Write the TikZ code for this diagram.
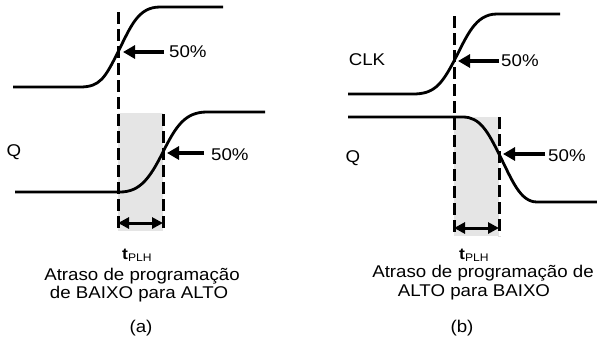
\documentclass[tikz,border=0pt]{standalone}
\usepackage{fontspec}
\setmainfont{Liberation Sans}[FakeStretch=1.1]
\usetikzlibrary{arrows.meta}
\newcommand{\tplh}{{\fontsize{16}{16}\selectfont\bfseries t}\raisebox{-2pt}{\fontsize{11}{11}\selectfont PLH}}
\begin{document}
\begin{tikzpicture}[x=1pt,y=-1pt,
  wave/.style={line width=2.8pt, line join=round},
  guide/.style={line width=3pt, dash pattern=on 12pt off 5pt},
  shade/.style={fill=black!10, draw=none},
  ptr/.style={line width=3.2pt,-{Triangle[length=12pt,width=13pt]}},
  span/.style={line width=3pt,{Triangle[length=11pt,width=11pt]}-{Triangle[length=11pt,width=11pt]}},
  lbl/.style={font=\fontsize{17}{19}\selectfont, inner sep=0pt},
  capt/.style={font=\fontsize{17}{19}\selectfont, inner sep=0pt, text height=12.5pt, text depth=3.5pt, anchor=base}
]
\useasboundingbox (0,0) rectangle (597,341);
% shaded delay regions
\fill[shade] (118,113) rectangle (163,231);
\fill[shade] (454,117) rectangle (499,236);
% ---------- panel (a)
\draw[wave] (13,87) -- (80,87) .. controls (100,87) and (105,78) .. (118,52) .. controls (131,26) and (138,7) .. (160,7) -- (223,7);
\draw[wave] (15,192) -- (120,192) .. controls (140,192) and (150,178) .. (163,152) .. controls (176,126) and (185,112) .. (207,112) -- (265,112);
\draw[guide] (118,12) -- (118,231);
\draw[guide] (163,114) -- (163,231);
\coordinate (aT) at (123,52);
\coordinate (aB) at (167,153);
\coordinate (aL) at (118,223);
\coordinate (aR) at (163,223);
\node[lbl, anchor=west] (pa1) at (169,52) {50\%};
\node[lbl, anchor=west] (pa2) at (211,155) {50\%};
\draw[ptr] (pa1.west) ++(-5,0) -- (aT);
\draw[ptr] (pa2.west) ++(-7,-2) -- (aB);
\draw[span] (aL) -- (aR);
\node[lbl] (qa) at (14,152) {Q};
\node[lbl, anchor=base west] (ta) at (122,259) {\tplh};
\node[capt] (ca1) at (142,280) {Atraso de programação};
\node[capt] (ca2) at (139,298) {de BAIXO para ALTO};
\node[lbl] (la) at (141,328) {(a)};
% ---------- panel (b)
\draw[wave] (348,94) -- (413,94) .. controls (433,94) and (441,86) .. (454,61) .. controls (467,36) and (475,14) .. (497,14) -- (560,14);
\draw[wave] (348,117) -- (463,117) .. controls (480,117) and (488,132) .. (499,154) .. controls (512,180) and (520,202) .. (537,202) -- (597,202);
\draw[guide] (454,16) -- (454,236);
\draw[guide] (499,117) -- (499,236);
\coordinate (bT) at (458,61);
\coordinate (bB) at (503,154);
\coordinate (bL) at (454,228);
\coordinate (bR) at (499,228);
\node[lbl, anchor=west] (pb1) at (501,61) {50\%};
\node[lbl, anchor=west] (pb2) at (548,156) {50\%};
\draw[ptr] (pb1.west) ++(-2,0) -- (bT);
\draw[ptr] (pb2.west) ++(-3,-2) -- (bB);
\draw[span] (bL) -- (bR);
\node[lbl] (clk) at (367,60) {CLK};
\node[lbl] (qb) at (353,158) {Q};
\node[lbl, anchor=base west] (tb) at (459,259) {\tplh};
\node[capt] (cb1) at (483,277) {Atraso de programação de};
\node[capt] (cb2) at (474,296) {ALTO para BAIXO};
\node[lbl] (lb) at (462,328) {(b)};
\end{tikzpicture}
\end{document}
